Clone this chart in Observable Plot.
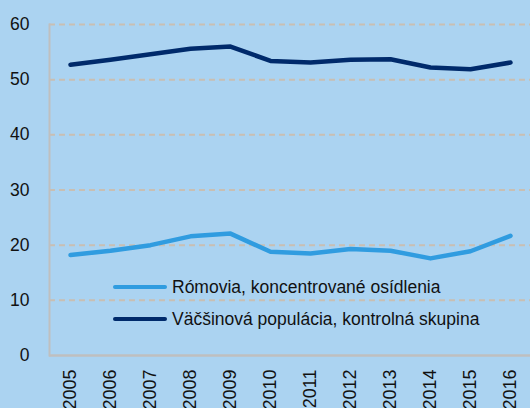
<!DOCTYPE html>
<html>
<head>
<meta charset="utf-8">
<script src="https://cdn.jsdelivr.net/npm/d3@7"></script>
<script src="https://cdn.jsdelivr.net/npm/@observablehq/plot@0.6"></script>
<style>
  html, body { margin: 0; padding: 0; background: #abd3f1; }
  #wrap { position: relative; width: 530px; height: 408px; overflow: hidden; background: #abd3f1; font-family: "Liberation Sans", Arial, sans-serif; }
  #legend { position: absolute; left: 113px; top: 271px; font-size: 17.5px; color: #111; }
  .item { display: flex; align-items: center; height: 32px; white-space: nowrap; }
  .sw { width: 54px; height: 4px; border-radius: 2px; margin-right: 5px; }
  svg g[aria-label="x-axis tick label"] text { font-size: 18px; }
</style>
</head>
<body>
<div id="wrap"></div>
<script>
const years = ["2005","2006","2007","2008","2009","2010","2011","2012","2013","2014","2015","2016"];
const roma = [18.2, 19.0, 20.0, 21.6, 22.1, 18.8, 18.5, 19.3, 19.0, 17.6, 18.9, 21.7];
const majority = [52.7, 53.6, 54.6, 55.6, 56.0, 53.4, 53.1, 53.6, 53.7, 52.2, 51.9, 53.1];
const seriesNames = ["Rómovia, koncentrované osídlenia", "Väčšinová populácia, kontrolná skupina"];
const seriesColors = ["#309ce0", "#002a6b"];
const yTicks = [0, 10, 20, 30, 40, 50, 60];
const gridTicks = [10, 20, 30, 40, 50, 60];

const data = [];
years.forEach((y, i) => {
  data.push({year: y, value: roma[i], series: seriesNames[0]});
  data.push({year: y, value: majority[i], series: seriesNames[1]});
});

const chart = Plot.plot({
  width: 530,
  height: 408,
  marginTop: 24,
  marginBottom: 53,
  marginLeft: 49,
  marginRight: 0,
  style: {background: "#abd3f1", fontFamily: "Liberation Sans, Arial, sans-serif", fontSize: "17.5px", color: "#111"},
  x: {type: "point", domain: years, range: [48, 532], padding: 0.5, label: null, tickSize: 0, tickPadding: 14, tickRotate: -90},
  y: {domain: [0, 60], ticks: yTicks, label: null, tickSize: 0, tickPadding: 20},
  color: {domain: seriesNames, range: seriesColors},
  marks: [
    Plot.ruleY(gridTicks, {stroke: "#c9bfb3", strokeWidth: 2, strokeDasharray: "6,4", strokeOpacity: 1}),
    Plot.ruleY([0], {stroke: "#bfbfbf", strokeWidth: 2.5}),
    Plot.frame({anchor: "left", stroke: "#bfbfbf", strokeWidth: 2}),
    Plot.line(data, {x: "year", y: "value", z: "series", stroke: "series", strokeWidth: 4.5, strokeLinecap: "round", strokeLinejoin: "round"})
  ]
});
const wrap = document.getElementById("wrap");
wrap.appendChild(chart);

const legend = document.createElement("div");
legend.id = "legend";
seriesNames.forEach((n, i) => {
  const it = document.createElement("div");
  it.className = "item";
  const sw = document.createElement("div");
  sw.className = "sw";
  sw.style.background = seriesColors[i];
  const t = document.createElement("span");
  t.textContent = n;
  it.appendChild(sw);
  it.appendChild(t);
  legend.appendChild(it);
});
wrap.appendChild(legend);
</script>
</body>
</html>
